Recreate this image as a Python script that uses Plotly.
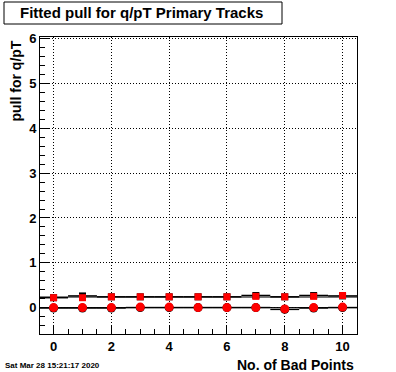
import plotly.graph_objects as go

x_bins = [0, 1, 2, 3, 4, 5, 6, 7, 8, 9, 10]
red_sq = [0.22, 0.22, 0.24, 0.24, 0.24, 0.24, 0.24, 0.25, 0.24, 0.25, 0.27]
black_sq = [0.22, 0.26, 0.24, 0.24, 0.24, 0.24, 0.24, 0.27, 0.24, 0.27, 0.26]
red_ci = [0.0, 0.0, 0.0, 0.01, 0.01, 0.0, 0.0, 0.0, -0.03, 0.0, 0.01]
black_ci = [-0.01, -0.01, -0.01, 0.0, 0.0, 0.0, 0.0, 0.0, -0.04, -0.01, 0.0]
fit_sq = 0.235
fit_ci = 0.0
x_err = [0.5] * len(x_bins)

FONT = "Liberation Sans, Arial, Helvetica, sans-serif"

fig = go.Figure()

# fit lines across full range
for v in (fit_sq, fit_ci):
    fig.add_trace(go.Scatter(x=[-0.47, 10.5], y=[v, v], mode="lines",
                             line=dict(color="black", width=1),
                             showlegend=False, hoverinfo="skip"))

# black histograms with horizontal bin bars
fig.add_trace(go.Scatter(x=x_bins, y=black_sq, mode="markers",
                         marker=dict(symbol="square", color="black", size=7),
                         error_x=dict(type="data", array=x_err, color="black",
                                      thickness=1.5, width=0),
                         showlegend=False))
fig.add_trace(go.Scatter(x=x_bins, y=black_ci, mode="markers",
                         marker=dict(symbol="circle", color="black", size=9),
                         error_x=dict(type="data", array=x_err, color="black",
                                      thickness=1.5, width=0),
                         showlegend=False))
# red markers
fig.add_trace(go.Scatter(x=x_bins, y=red_sq, mode="markers",
                         marker=dict(symbol="square", color="#ff0000", size=7),
                         showlegend=False))
fig.add_trace(go.Scatter(x=x_bins, y=red_ci, mode="markers",
                         marker=dict(symbol="circle", color="#ff0000", size=9),
                         showlegend=False))

axis_common = dict(
    showline=True, linecolor="black", linewidth=1, mirror=True,
    ticks="inside", tickcolor="black", tickwidth=1,
    showgrid=True, gridcolor="black", griddash="1px,2px", gridwidth=1,
    zeroline=False,
    tickfont=dict(family=FONT, size=13, color="black", weight="bold"),
)

fig.update_xaxes(range=[-0.47, 10.5], tickvals=[0, 2, 4, 6, 8, 10], ticklen=9,
                 minor=dict(ticks="inside", dtick=0.5, tick0=0, ticklen=5,
                            tickcolor="black", showgrid=False),
                 **axis_common)
fig.update_yaxes(range=[-0.59, 6.04], tickvals=[0, 1, 2, 3, 4, 5, 6], ticklen=9,
                 minor=dict(ticks="inside", dtick=0.2, tick0=0, ticklen=5,
                            tickcolor="black", showgrid=False),
                 **axis_common)

W, H = 396, 372
L, R, T, B = 40, 39, 37, 38
pw, ph = W - L - R, H - T - B


def px(xp):
    return (xp - L) / pw


def py(yp):
    return (H - B - yp) / ph


fig.add_shape(type="rect", xref="paper", yref="paper",
              x0=px(4), x1=px(282), y0=py(24), y1=py(2),
              line=dict(color="black", width=1), fillcolor="white")

fig.add_annotation(text="Fitted pull for q/pT Primary Tracks", xref="paper", yref="paper",
                   x=px(18), y=py(13), xanchor="left", yanchor="middle", showarrow=False,
                   font=dict(family=FONT, size=15, color="black", weight="bold"))
fig.add_annotation(text="pull for q/pT", xref="paper", yref="paper", textangle=-90,
                   x=px(15), y=py(39), xanchor="center", yanchor="top", showarrow=False,
                   font=dict(family=FONT, size=14, color="black", weight="bold"))
fig.add_annotation(text="No. of Bad Points", xref="paper", yref="paper",
                   x=px(356), y=py(365), xanchor="right", yanchor="middle", showarrow=False,
                   font=dict(family=FONT, size=14, color="black", weight="bold"))
fig.add_annotation(text="Sat Mar 28 15:21:17 2020", xref="paper", yref="paper",
                   x=px(3), y=py(365), xanchor="left", yanchor="middle", showarrow=False,
                   font=dict(family=FONT, size=8, color="black", weight="bold"))

fig.update_layout(width=W, height=H, margin=dict(l=L, r=R, t=T, b=B),
                  paper_bgcolor="white", plot_bgcolor="white")

fig.write_html("out.html", config={"displayModeBar": False},
               post_script="document.body.style.margin='0';document.body.style.overflow='hidden';")
